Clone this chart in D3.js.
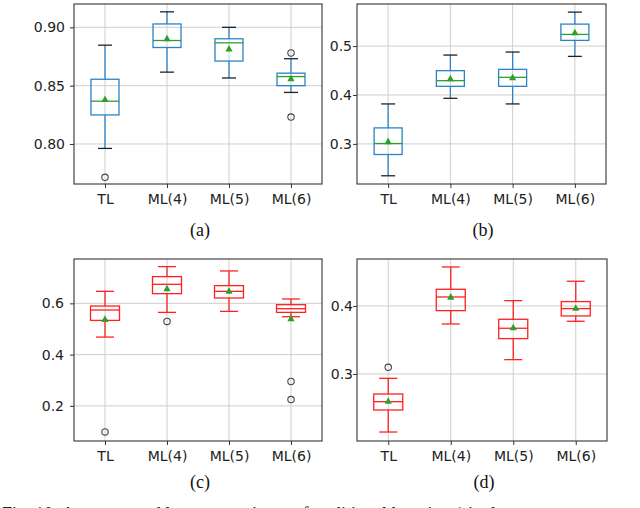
<!DOCTYPE html>
<html><head><meta charset="utf-8">
<script src="https://cdn.jsdelivr.net/npm/d3@7"></script>
<style>body{margin:0;background:#fff}svg{display:block}</style>
</head><body>
<script>
const categories = ["TL","ML(4)","ML(5)","ML(6)"];

// Panel (a)
const aLow    = [0.7962,0.8616,0.8566,0.8442];
const aQ1     = [0.8249,0.8827,0.8711,0.8500];
const aMedian = [0.8367,0.8887,0.8867,0.8578];
const aQ3     = [0.8555,0.9029,0.8902,0.8607];
const aHigh   = [0.8847,0.9133,0.9000,0.8731];
const aMean   = [0.8382,0.8902,0.8815,0.8561];
const aOutliers = [[0.7714],[],[],[0.8780,0.8231]];
const aTicks = [0.80,0.85,0.90];
const aLimits = [0.7657,0.9200];

// Panel (b)
const bLow    = [0.2348,0.3932,0.3817,0.4789];
const bQ1     = [0.2783,0.4177,0.4177,0.5116];
const bMedian = [0.3007,0.4293,0.4361,0.5238];
const bQ3     = [0.3327,0.4497,0.4524,0.5449];
const bHigh   = [0.3817,0.4816,0.4878,0.5694];
const bMean   = [0.3048,0.4334,0.4354,0.5272];
const bOutliers = [[],[],[],[]];
const bTicks = [0.3,0.4,0.5];
const bLimits = [0.218,0.586];

// Panel (c)
const cLow    = [0.4684,0.5648,0.5687,0.5479];
const cQ1     = [0.5335,0.6378,0.6208,0.5648];
const cMedian = [0.5739,0.6743,0.6469,0.5792];
const cQ3     = [0.5896,0.7042,0.6691,0.5948];
const cHigh   = [0.6469,0.7433,0.7264,0.6170];
const cMean   = [0.5375,0.6573,0.6480,0.5400];
const cOutliers = [[0.0983],[0.5296],[],[0.2951,0.2247]];
const cTicks = [0.2,0.4,0.6];
const cLimits = [0.063,0.773];

// Panel (d)
const dLow    = [0.2147,0.3735,0.3211,0.3775];
const dQ1     = [0.2471,0.3931,0.3520,0.3853];
const dMedian = [0.2593,0.4132,0.3672,0.3961];
const dQ3     = [0.2706,0.4245,0.3804,0.4064];
const dHigh   = [0.2936,0.4573,0.4078,0.4363];
const dMean   = [0.2600,0.4130,0.3681,0.3966];
const dOutliers = [[0.3098],[],[],[]];
const dTicks = [0.3,0.4];
const dLimits = [0.2015,0.469];

const panelLabels = ["(a)","(b)","(c)","(d)"];
const caption = "Fig. 10: Accuracy and loss comparisons of traditional learning (single";

const W = 640, H = 508;
const svg = d3.select("body").append("svg").attr("width",W).attr("height",H);

const BLUE = "#2b83c6", GREEN = "#2ca02c", RED = "#ff2020";

const panels = [
  {low:aLow,q1:aQ1,med:aMedian,q3:aQ3,high:aHigh,mean:aMean,out:aOutliers,ticks:aTicks,lim:aLimits,fmt:".2f",
   x0:74,x1:322,y0:4,y1:184,gap:9,box:BLUE,whisk:BLUE,cap:"#222",medc:GREEN,bw:28,cw:14,label:panelLabels[0],lx:200,ly:236},
  {low:bLow,q1:bQ1,med:bMedian,q3:bQ3,high:bHigh,mean:bMean,out:bOutliers,ticks:bTicks,lim:bLimits,fmt:".1f",
   x0:357,x1:606,y0:4,y1:184,gap:5,box:BLUE,whisk:BLUE,cap:"#222",medc:GREEN,bw:28,cw:14,label:panelLabels[1],lx:483,ly:236},
  {low:cLow,q1:cQ1,med:cMedian,q3:cQ3,high:cHigh,mean:cMean,out:cOutliers,ticks:cTicks,lim:cLimits,fmt:".1f",
   x0:74,x1:322,y0:259,y1:441,gap:10,box:RED,whisk:RED,cap:RED,medc:RED,bw:29,cw:18,label:panelLabels[2],lx:200,ly:488},
  {low:dLow,q1:dQ1,med:dMedian,q3:dQ3,high:dHigh,mean:dMean,out:dOutliers,ticks:dTicks,lim:dLimits,fmt:".1f",
   x0:357,x1:607,y0:259,y1:441,gap:4,box:RED,whisk:RED,cap:RED,medc:RED,bw:29,cw:18,label:panelLabels[3],lx:484,ly:488}
];

panels.forEach(p => {
  const x = d3.scalePoint().domain(categories).range([p.x0,p.x1]).padding(0.5);
  const y = d3.scaleLinear().domain(p.lim).range([p.y1,p.y0]);
  const g = svg.append("g");

  // grid
  g.selectAll(".hg").data(p.ticks).join("line")
    .attr("x1",p.x0).attr("x2",p.x1).attr("y1",d=>y(d)).attr("y2",d=>y(d))
    .attr("stroke","#cfcfcf").attr("stroke-width",1);
  g.selectAll(".vg").data(categories).join("line")
    .attr("x1",d=>x(d)).attr("x2",d=>x(d)).attr("y1",p.y0).attr("y2",p.y1)
    .attr("stroke","#cfcfcf").attr("stroke-width",1);

  // axes
  const yAxis = d3.axisLeft(y).tickValues(p.ticks).tickFormat(d3.format(p.fmt)).tickSize(4).tickPadding(p.gap-4);
  const ya = g.append("g").attr("transform",`translate(${p.x0},0)`).call(yAxis);
  const xAxis = d3.axisBottom(x).tickSize(4).tickPadding(6);
  const xa = g.append("g").attr("transform",`translate(0,${p.y1})`).call(xAxis);
  [ya,xa].forEach(a=>{
    a.select(".domain").remove();
    a.selectAll("line").attr("stroke","#333");
    a.selectAll("text").attr("font-family","DejaVu Sans").attr("font-size",14).attr("fill","#222");
  });

  const idx = d3.range(categories.length);
  // whiskers
  g.selectAll(".wu").data(idx).join("line")
    .attr("x1",i=>x(categories[i])).attr("x2",i=>x(categories[i]))
    .attr("y1",i=>y(p.q3[i])).attr("y2",i=>y(p.high[i]))
    .attr("stroke",p.whisk).attr("stroke-width",1.3);
  g.selectAll(".wl").data(idx).join("line")
    .attr("x1",i=>x(categories[i])).attr("x2",i=>x(categories[i]))
    .attr("y1",i=>y(p.q1[i])).attr("y2",i=>y(p.low[i]))
    .attr("stroke",p.whisk).attr("stroke-width",1.3);
  // caps
  [p.high,p.low].forEach(arr=>{
    g.selectAll(null).data(idx).join("line")
      .attr("x1",i=>x(categories[i])-p.cw/2).attr("x2",i=>x(categories[i])+p.cw/2)
      .attr("y1",i=>y(arr[i])).attr("y2",i=>y(arr[i]))
      .attr("stroke",p.cap).attr("stroke-width",1.3);
  });
  // boxes
  g.selectAll(".bx").data(idx).join("rect")
    .attr("x",i=>x(categories[i])-p.bw/2).attr("width",p.bw)
    .attr("y",i=>y(p.q3[i])).attr("height",i=>y(p.q1[i])-y(p.q3[i]))
    .attr("fill","none").attr("stroke",p.box).attr("stroke-width",1.3);
  // medians
  g.selectAll(".md").data(idx).join("line")
    .attr("x1",i=>x(categories[i])-p.bw/2).attr("x2",i=>x(categories[i])+p.bw/2)
    .attr("y1",i=>y(p.med[i])).attr("y2",i=>y(p.med[i]))
    .attr("stroke",p.medc).attr("stroke-width",1.3);
  // outliers
  const outs = [];
  p.out.forEach((arr,i)=>arr.forEach(v=>outs.push({c:categories[i],v})));
  g.selectAll(".ol").data(outs).join("circle")
    .attr("cx",d=>x(d.c)).attr("cy",d=>y(d.v)).attr("r",3.2)
    .attr("fill","none").attr("stroke","#444").attr("stroke-width",1.1);
  // means
  g.selectAll(".mn").data(idx).join("path")
    .attr("transform",i=>`translate(${x(categories[i])},${y(p.mean[i])})`)
    .attr("d","M0,-4 L3.6,2.6 L-3.6,2.6 Z")
    .attr("fill",GREEN);

  // frame
  g.append("rect").attr("x",p.x0).attr("y",p.y0).attr("width",p.x1-p.x0).attr("height",p.y1-p.y0)
    .attr("fill","none").attr("stroke","#333").attr("stroke-width",1.1);

  // panel label
  svg.append("text").attr("x",p.lx).attr("y",p.ly).attr("text-anchor","middle")
    .attr("font-family","Liberation Serif").attr("font-size",18).attr("fill","#111").text(p.label);
});

// caption: in the reference only its top sliver shows at the bottom edge
svg.append("text").attr("x",2).attr("y",520)
  .attr("font-family","Liberation Serif").attr("font-size",18).attr("fill","#111").text(caption);
</script>
</body></html>
